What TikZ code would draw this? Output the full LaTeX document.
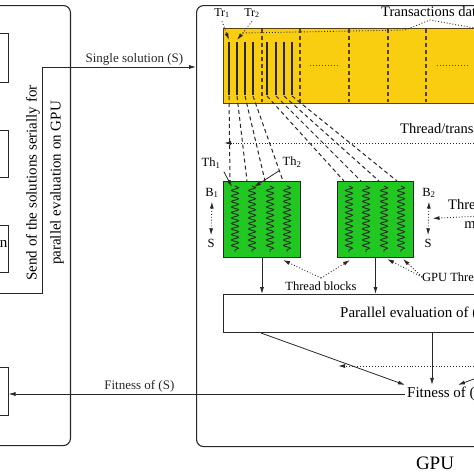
\documentclass[tikz,border=0pt]{standalone}
\usepackage{fontspec}
\setmainfont{Liberation Serif}
\usetikzlibrary{arrows.meta, calc, positioning, decorations.pathmorphing}
\definecolor{dbyellow}{RGB}{250,206,16}
\definecolor{blkgreen}{RGB}{34,200,34}
\definecolor{edge}{RGB}{40,40,40}
\definecolor{dbedge}{RGB}{85,65,20}
\newcommand{\fs}[1]{\fontsize{#1}{#1}\selectfont}

\begin{document}
\begin{tikzpicture}[x=1pt, y=-1pt,
    panel/.style={draw=edge, line width=1.1pt, rounded corners=7pt, inner sep=0pt},
    box/.style={draw=edge, line width=0.9pt, inner sep=0pt},
    arr/.style={edge, line width=0.8pt, -{Latex[length=7pt,width=4pt]}},
    dotarr/.style={edge, dotted, line width=0.9pt, -{Latex[length=7pt,width=4pt]}},
    conn/.style={edge, dash pattern=on 4pt off 3pt, line width=1pt},
    lbl/.style={inner sep=1pt, font=\fs{13}}]
        \useasboundingbox (0,0) rectangle (474,474);

        % host side (left panel)
        \node[panel, minimum width=140pt, minimum height=440pt, anchor=north east] (host) at (71,5) {};
        \node[box, minimum width=60pt, minimum height=49pt, anchor=east] (init) at (8.5,57.5) {};
        \node[box, minimum width=60pt, minimum height=47pt, anchor=east] (neigh) at (8.5,153.5) {};
        \node[box, minimum width=60pt, minimum height=47pt, anchor=east] (select) at (8.5,248.5) {};
        \node[anchor=east, inner sep=0pt, font=\fs{15}] (selecttxt) at (7.5,242) {Selection};
        \node[box, minimum width=60pt, minimum height=48pt, anchor=east] (update) at (8.5,391) {};

        % GPU side
        \node[panel, minimum width=440pt, minimum height=441pt, anchor=north west] (gpu) at (196,5) {};
        \node[font=\fs{19}] (gpulbl) at (435,463) {GPU};

        % solution sent to the GPU
        \coordinate (sendfrom) at (-20,293);
        \coordinate (sendbend) at (42,67);
        \draw[arr] (sendfrom) -| (sendbend) -- (sendbend -| gpu.west) node[lbl, pos=0.6, above] {Single solution (S)};
        \node[rotate=90, align=center, font=\fontsize{15}{24}\selectfont] (sendtxt) at (45,183) {Send of the solutions serially for\\parallel evaluation on GPU};

        % transactions database
        \node[draw=dbedge, fill=dbyellow, line width=1pt, minimum width=400pt, minimum height=75pt, anchor=north west, inner sep=0pt] (tdb) at (223,28) {};
        \foreach \x in {262,300,349,388,426}
            \draw[conn, dbedge, line width=1.2pt] (\x,29) -- (\x,102);
        \draw[dotted, dbedge, line width=1pt] (310,65) -- (340,65);
        \draw[dotted, dbedge, line width=1pt] (437,65) -- (468,65);
        \foreach \x [count=\i] in {229,237,245,253,267,276,284,292} {
            \draw[edge, line width=1.3pt] (\x,42) -- (\x,95);
            \coordinate (tt\i) at (\x,40);
            \coordinate (tb\i) at (\x,96);
        }
        \node[anchor=west, inner sep=0pt, font=\fs{14.5}] (tdblbl) at (381,12) {Transactions database};
        \draw[edge, dotted, line width=0.9pt] (243,33) -- (405,30) -- (430,20) -- (480,29);
        \node[font=\fs{12}] (tr1) at (222,13) {Tr\textsubscript{1}};
        \node[font=\fs{12}] (tr2) at (252,13) {Tr\textsubscript{2}};
        \draw[dotarr] (tr1.south) -- (tt1);
        \draw[dotarr] (tr2.south) -- (tt2);

        % thread blocks
        \node[draw=edge, fill=blkgreen, line width=1pt, minimum width=77pt, minimum height=76pt, anchor=north west, inner sep=0pt] (blk1) at (223,181) {};
        \node[draw=edge, fill=blkgreen, line width=1pt, minimum width=76pt, minimum height=76pt, anchor=north west, inner sep=0pt] (blk2) at (337,181) {};
        \foreach \b in {blk1,blk2}
            \foreach \e in {12,29,47,64}
                \draw[edge, line width=0.9pt, decorate, decoration={snake, amplitude=3.5pt, segment length=5.5pt}] ($(\b.north west)+(\e,5)$) -- ($(\b.north west)+(\e,71)$);

        % thread/transaction mapping
        \foreach \i/\e in {1/7,2/24,3/42,4/60}
            \draw[conn] (tb\i) -- ($(blk1.north west)+(\e,0)$);
        \foreach \i/\e in {5/7,6/24,7/42,8/60}
            \draw[conn] (tb\i) -- ($(blk2.north west)+(\e,0)$);
        \node[anchor=west, inner sep=0pt, font=\fs{14.5}] (maplbl) at (400,130) {Thread/transaction mapping};
        \coordinate (mapfrom) at (480,143);
        \coordinate (mapto) at (224,143);
        \draw[dotarr] (mapfrom) -- (mapto);

        % threads and block sizes
        \node[font=\fs{12.5}] (th1) at (211,163) {Th\textsubscript{1}};
        \node[font=\fs{12.5}] (th2) at (292,162) {Th\textsubscript{2}};
        \draw[arr] (th1.south east) -- ($(blk1.north west)+(9,6)$);
        \draw[arr] (th2.south west) -- ($(blk1.north west)+(31,6)$);
        \node[font=\fs{12.5}] (b1) at (212,193) {B\textsubscript{1}};
        \node[font=\fs{12.5}] (s1) at (211,243) {S};
        \draw[dotarr, {Latex[length=7pt,width=4pt]}-{Latex[length=7pt,width=4pt]}] (b1.south) -- (s1.north);
        \node[font=\fs{12.5}] (b2) at (429,193) {B\textsubscript{2}};
        \node[font=\fs{12.5}] (s2) at (428,243) {S};
        \draw[dotarr, {Latex[length=7pt,width=4pt]}-{Latex[length=7pt,width=4pt]}] (b2.south) -- (s2.north);
        \node[anchor=west, align=center, inner sep=0pt, font=\fontsize{14.5}{19}\selectfont] (bmaplbl) at (448,216) {Threads/block\\mapping};
        \coordinate (bmapfrom) at (480,216);
        \draw[dotarr] (bmapfrom) -- ($(s2.north)!0.5!(b2.south)+(4,0)$);

        \node[anchor=west, inner sep=0pt, font=\fs{12.5}] (gthlbl) at (422,277) {GPU Threads};
        \draw[dotarr] (gthlbl.west) -- ($(blk2.south west)+(50,1)$);
        \draw[dotarr] (gthlbl.west) -- ($(blk2.south west)+(66,1)$);
        \node[font=\fs{12.5}] (tblbl) at (321,286) {Thread blocks};
        \draw[dotarr] (tblbl.north) -- ($(blk1.south east)+(-18,2)$);
        \draw[dotarr] (tblbl.north) -- ($(blk2.south west)+(13,2)$);

        % parallel evaluation
        \node[draw=edge, line width=1pt, minimum width=400pt, minimum height=38pt, anchor=north west, inner sep=0pt] (par) at (223,294) {};
        \node[anchor=west, inner sep=0pt, font=\fs{15}] (partxt) at (340,314) {Parallel evaluation of (S)};
        \draw[arr] (blk1.south) -- (blk1.south |- par.north);
        \draw[arr] (blk2.south) -- (blk2.south |- par.north);

        % fitness back to the host
        \node[anchor=west, inner sep=2pt, font=\fs{15}] (fit) at (405,394) {Fitness of (S)};
        \draw[arr] ($(par.south west)+(38,0)$) -- (fit.north west);
        \draw[arr] ($(par.south west)+(209,0)$) -- ($(fit.north west)+(27,0)$);
        \coordinate (fitright) at (600,332);
        \draw[arr] (fitright) -- ($(fit.north west)+(53,0)$);
        \coordinate (redfrom) at (480,366);
        \draw[dotarr] (redfrom) -- (338,366);
        \draw[arr] (fit.west) -- (fit.west -| update.east) node[lbl, pos=0.67, above] {Fitness of (S)};
\end{tikzpicture}
\end{document}
